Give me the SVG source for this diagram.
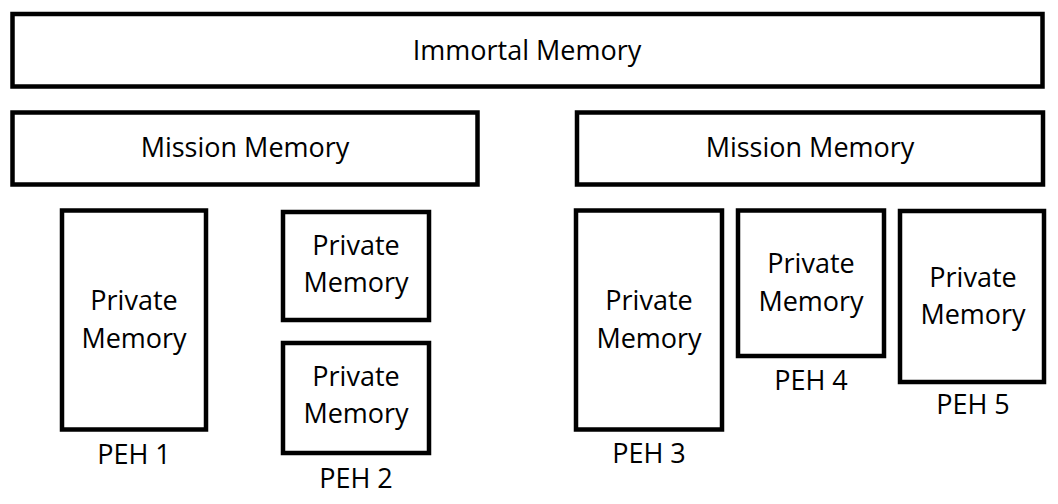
<svg xmlns="http://www.w3.org/2000/svg" width="1058" height="504" viewBox="0 0 1058 504">
<style>
.box{fill:#fff;stroke:#000;stroke-width:4.5}
text{font-family:"Open Sans","Liberation Sans",sans-serif;font-size:27px;fill:#000;text-anchor:middle}
</style>
<rect width="1058" height="504" fill="#fff"/>
<g id="immortal"><rect class="box" x="12.5" y="14" width="1030" height="72.5"/><text x="527" y="60">Immortal Memory</text></g>
<g id="mission1"><rect class="box" x="12.5" y="112.5" width="465" height="72"/><text x="245" y="157">Mission Memory</text></g>
<g id="mission2"><rect class="box" x="577" y="112.5" width="466" height="72"/><text x="810" y="157">Mission Memory</text></g>
<g id="peh1"><rect class="box" x="62" y="210.5" width="144" height="219"/><text x="134" y="310">Private</text><text x="134" y="348">Memory</text><text x="134" y="464">PEH 1</text></g>
<g id="peh2a"><rect class="box" x="283" y="212" width="146" height="108"/><text x="356" y="255">Private</text><text x="356" y="292">Memory</text></g>
<g id="peh2b"><rect class="box" x="283" y="343" width="146" height="110"/><text x="356" y="386">Private</text><text x="356" y="423">Memory</text><text x="356" y="488">PEH 2</text></g>
<g id="peh3"><rect class="box" x="576" y="210.5" width="146" height="219"/><text x="649" y="310">Private</text><text x="649" y="348">Memory</text><text x="649" y="463">PEH 3</text></g>
<g id="peh4"><rect class="box" x="738" y="210.5" width="146" height="145.5"/><text x="811" y="273">Private</text><text x="811" y="311">Memory</text><text x="811" y="390">PEH 4</text></g>
<g id="peh5"><rect class="box" x="900" y="211" width="144" height="171"/><text x="973" y="287">Private</text><text x="973" y="324">Memory</text><text x="973" y="414">PEH 5</text></g>
<g id="connectors"></g>
</svg>
